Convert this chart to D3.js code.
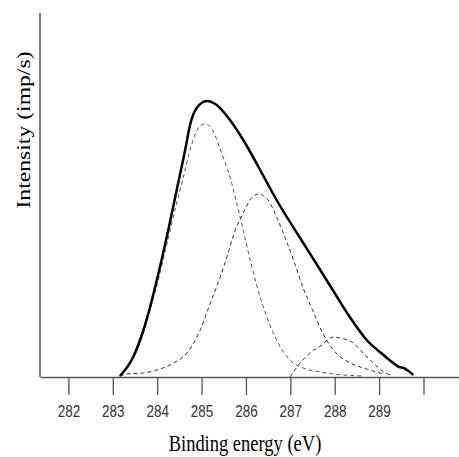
<!DOCTYPE html>
<html>
<head>
<meta charset="utf-8">
<script src="https://cdn.jsdelivr.net/npm/d3@7"></script>
<style>
  body { margin: 0; background: #fff; }
  svg { display: block; }
</style>
</head>
<body>
<svg width="459" height="457"></svg>
<script>
// Values: [binding energy (eV), intensity (arb.)]
const envelope = [
    [283.16, 1], [283.46, 20], [283.69, 47], [283.84, 70], [284.03, 104],
    [284.25, 147], [284.44, 187], [284.63, 227], [284.74, 252], [284.89, 269],
    [285.12, 276], [285.34, 272], [285.64, 257], [285.94, 237], [286.32, 207],
    [286.69, 177], [287.22, 139], [287.59, 113], [287.97, 86], [288.34, 60],
    [288.72, 37], [289.1, 22], [289.32, 14], [289.45, 10], [289.55, 9],
    [289.63, 7], [289.77, 2]
];

const peakC1 = [
    [283.16, 0.5], [283.46, 19], [283.69, 44], [283.84, 67], [284.03, 98],
    [284.25, 139], [284.44, 174], [284.59, 200], [284.74, 227], [284.89, 246],
    [285.05, 253], [285.15, 252], [285.3, 242], [285.42, 228], [285.54, 213],
    [285.64, 200], [285.79, 174], [285.94, 147], [286.09, 118], [286.32, 80],
    [286.47, 60], [286.69, 37], [286.99, 17], [287.29, 9], [287.67, 5],
    [287.97, 3], [288.64, 1]
];

const peakC2 = [
    [283.16, 1], [283.31, 3], [283.69, 4], [283.99, 7], [284.37, 14],
    [284.67, 24], [284.97, 47], [285.19, 73], [285.42, 100], [285.57, 120],
    [285.76, 147], [285.94, 164], [286.09, 177], [286.28, 183], [286.5, 177],
    [286.69, 160], [286.84, 144], [287.07, 117], [287.29, 89], [287.52, 65],
    [287.74, 43], [287.97, 27], [288.35, 14], [288.72, 8], [289.1, 3]
];

const peakC3 = [
    [286.99, 0], [287.22, 14], [287.44, 24], [287.74, 33], [287.89, 39],
    [288.0, 40], [288.12, 39], [288.42, 34], [288.64, 24], [288.87, 14],
    [289.1, 5], [289.25, 2]
];

const xTicks = [282, 283, 284, 285, 286, 287, 288, 289, 290];
const xLabels = ["282", "283", "284", "285", "286", "287", "288", "289", ""];

const svg = d3.select("svg");

// Scales
const x = d3.scaleLinear().domain([281.36, 290.8]).range([40, 459]);
const y = d3.scaleLinear().domain([0, 364]).range([377, 13]);

// The original picture is stretched vertically, so text gets a y-scale too
const stretch = 1.28;

// Axes
const xAxis = d3.axisBottom(x)
    .tickValues(xTicks)
    .tickSize(18)
    .tickSizeOuter(0)
    .tickFormat((d, i) => xLabels[i]);

const gx = svg.append("g")
    .attr("transform", `translate(0,${y(0)})`)
    .call(xAxis);

gx.select(".domain").attr("stroke", "#555").attr("stroke-width", 1.5);
gx.selectAll(".tick line").attr("stroke", "#555").attr("stroke-width", 1.3);
gx.selectAll(".tick text")
    .attr("fill", "#333")
    .attr("y", 40 / stretch)
    .attr("dy", null)
    .attr("transform", `scale(1,${stretch})`)
    .style("font-family", "'Liberation Sans', Arial, sans-serif")
    .style("font-size", "13.5px");

svg.append("line")
    .attr("x1", 40).attr("x2", 40)
    .attr("y1", y(364)).attr("y2", y(0))
    .attr("stroke", "#555")
    .attr("stroke-width", 1.5);

// Fitted component peaks (dashed)
const line = d3.line()
    .x(d => x(d[0]))
    .y(d => y(d[1]))
    .curve(d3.curveMonotoneX);

[peakC1, peakC2, peakC3].forEach((pk, i) => {
    svg.append("path")
        .datum(pk)
        .attr("fill", "none")
        .attr("stroke", i === 0 ? "#555" : "#333")
        .attr("stroke-width", 1)
        .attr("stroke-dasharray", "4,3")
        .attr("d", line);
});

// Measured envelope
svg.append("path")
    .datum(envelope)
    .attr("fill", "none")
    .attr("stroke", "#000")
    .attr("stroke-width", 2.5)
    .attr("stroke-linejoin", "round")
    .attr("d", line);

// Axis titles
svg.append("text")
    .attr("transform", `translate(245,451) scale(1,${stretch})`)
    .attr("text-anchor", "middle")
    .style("font-family", "'Liberation Serif', 'Times New Roman', serif")
    .style("font-size", "18.5px")
    .text("Binding energy (eV)");

svg.append("text")
    .attr("transform", `translate(30,130) scale(1,${stretch}) rotate(-90)`)
    .attr("text-anchor", "middle")
    .style("font-family", "'Liberation Serif', 'Times New Roman', serif")
    .style("font-size", "18.5px")
    .text("Intensity (imp/s)");
</script>
</body>
</html>
